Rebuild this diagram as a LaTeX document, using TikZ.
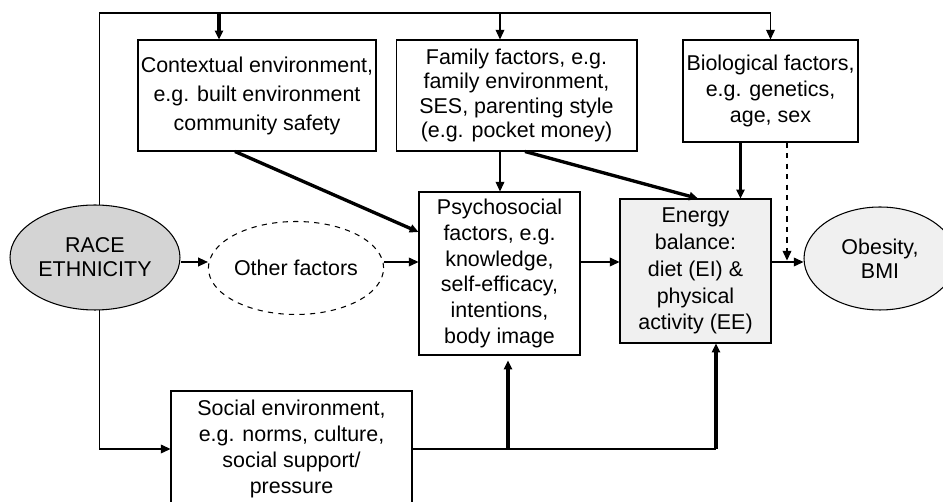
\documentclass[tikz,border=0pt]{standalone}
\usepackage{fontspec}
\setmainfont{Liberation Sans}
\usetikzlibrary{arrows.meta, positioning, shapes.geometric, calc}

\definecolor{raceGray}{gray}{0.83}
\definecolor{paleGray}{gray}{0.94}

\tikzset{
  wire/.style={line width=0.6pt},
  flow/.style={wire, -{Triangle[length=5.5pt,width=5pt]}},
  strong/.style={line width=1.9pt, -{Triangle[length=5pt,width=4.6pt]}},
  factorbox/.style={draw, wire, inner sep=0pt, align=center,
    font=\fontsize{12.2}{14.8}\selectfont},
  blob/.style={ellipse, draw, wire, inner sep=0pt, align=center,
    font=\fontsize{12.2}{13.6}\selectfont},
}

\begin{document}
\begin{tikzpicture}[x=0.02cm, y=-0.02cm]
\useasboundingbox (0,0) rectangle (943,502);
\clip (0,0) rectangle (943,502);

\coordinate (cTop) at (0,13);
\coordinate (cFlow) at (0,262);

% top row
\node[factorbox, minimum width=4.76cm, minimum height=2.22cm,
  font=\fontsize{12.2}{16.5}\selectfont] (nContext) at (257,95.5)
  {Contextual environment,\\ e.g. built environment\\ community safety};
\node[factorbox, minimum width=4.82cm, minimum height=2.22cm,
  font=\fontsize{12.2}{13.8}\selectfont] (nFamily) at (516.5,95.5)
  {Family factors, e.g.\\ family environment,\\ SES, parenting style\\ (e.g. pocket money)};
\node[factorbox, minimum width=3.5cm, minimum height=2.04cm] (nBio) at (770.5,91)
  {Biological factors,\\ e.g. genetics,\\ age, sex};

% middle row
\node[blob, fill=raceGray, minimum width=3.4cm, minimum height=2.1cm] (nRace) at (95,257.5)
  {RACE\\ ETHNICITY};
\node[blob, dashed, minimum width=3.2cm, minimum height=1.86cm] (nOther) at (296,268)
  {Other factors};
\node[factorbox, minimum width=3.22cm, minimum height=3.26cm,
  font=\fontsize{12.2}{14.6}\selectfont] (nPsych) at (499.5,273.5)
  {Psychosocial\\ factors, e.g.\\ knowledge,\\ self-efficacy,\\ intentions,\\ body image};
\node[factorbox, fill=paleGray, minimum width=3.02cm, minimum height=2.88cm,
  font=\fontsize{12.2}{15.3}\selectfont] (nEnergy) at (695.5,271)
  {Energy\\ balance:\\ diet (EI) \&\\ physical\\ activity (EE)};
\node[blob, fill=paleGray, minimum width=3.04cm, minimum height=2.06cm] (nObese) at (880,258.5)
  {Obesity,\\ BMI};

% bottom row
\node[factorbox, minimum width=4.82cm, minimum height=2.32cm] (nSocial) at (291.5,449)
  {Social environment,\\ e.g. norms, culture,\\ social support/\\ pressure};

% race to the top row
\draw[flow] (nRace.85) -- (nRace.85 |- cTop) -| (nBio.north);
\coordinate (cCtxIn) at ([xshift=-0.76cm]nContext.north);
\coordinate (cFamIn) at ([xshift=-0.33cm]nFamily.north);
\draw[strong] (cCtxIn |- cTop) -- (cCtxIn);
\draw[flow] (cFamIn |- cTop) -- (cFamIn);

% top row downwards
\draw[flow] (cFamIn |- nFamily.south) -- (cFamIn |- nPsych.north);
\draw[strong] ([xshift=-0.44cm]nContext.south) -- ([yshift=0.83cm]nPsych.west);
\draw[strong] ([xshift=0.17cm]nFamily.south) -- ([xshift=0.05cm]nEnergy.north);
\coordinate (cBioE) at ([xshift=0.9cm]nEnergy.north);
\draw[strong] (cBioE |- nBio.south) -- (cBioE);
\draw[flow, dashed] ([xshift=0.33cm]nBio.south) -- ++(0,118);

% main chain
\foreach \a/\b in
{   nRace/nOther,
    nOther/nPsych,
    nPsych/nEnergy,
    nEnergy/nObese}
{
    \draw[flow] (\a.east |- cFlow) -- (\b.west |- cFlow);
};

% social environment
\draw[flow] (nRace.-85) |- (nSocial.west);
\coordinate (cPsIn) at ([xshift=0.17cm, yshift=-0.1cm]nPsych.south);
\coordinate (cEnIn) at ([xshift=0.41cm]nEnergy.south);
\draw[wire] (nSocial.east) -- (nSocial.east -| cEnIn);
\draw[strong] (nSocial.east -| cPsIn) -- (cPsIn);
\draw[strong] (nSocial.east -| cEnIn) -- (cEnIn);

\end{tikzpicture}
\end{document}
